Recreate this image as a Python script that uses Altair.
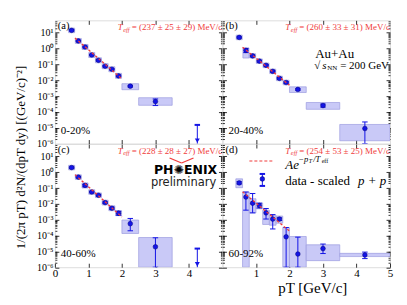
import altair as alt
import pandas as pd

BLUE = "#1414e6"
RED = "#f03c3c"
BOXFILL = "#c9c9f7"
BOXEDGE = "#9c9ce0"
SERIF = "Liberation Serif"

# ---------------- data ----------------
# (a) 0-20%
a_pt = [0.5, 0.7, 0.9, 1.1, 1.3, 1.5, 1.7, 1.9, 2.25, 3.0]
a_y = [14, 3.0, 1.25, 0.39, 0.18, 0.076, 0.049, 0.0186, 0.0042, 4.5e-4]
a_ylo = [12.5, 2.7, 1.1, 0.35, 0.16, 0.068, 0.044, 0.0165, 0.0037, 2.5e-4]
a_yhi = [15.5, 3.3, 1.4, 0.43, 0.2, 0.084, 0.054, 0.021, 0.0047, 6.5e-4]
a_bx0 = [0.41, 0.61, 0.81, 1.01, 1.21, 1.41, 1.61, 1.81, 2.0, 2.5]
a_bx1 = [0.59, 0.79, 0.99, 1.19, 1.39, 1.59, 1.79, 1.99, 2.5, 3.5]
a_by0 = [10, 2.1, 0.87, 0.27, 0.125, 0.053, 0.034, 0.013, 0.0025, 2.6e-4]
a_by1 = [19.5, 4.3, 1.8, 0.56, 0.26, 0.11, 0.07, 0.027, 0.006, 7.8e-4]
a_ul_pt = [4.25]
a_ul = [1.5e-5]
a_fit_pt = [0.6, 2.0]
a_fit = [4.6, 0.012]

# (b) 20-40%
b_pt = [0.5, 0.7, 0.9, 1.1, 1.3, 1.5, 1.7, 1.9, 2.25, 3.0, 4.25]
b_y = [5.0, 0.76, 0.34, 0.16, 0.087, 0.036, 0.013, 0.0071, 0.0026, 2.5e-4, 8.9e-6]
b_ylo = [4.5, 0.55, 0.3, 0.14, 0.078, 0.032, 0.0115, 0.0063, 0.0023, 2.0e-4, 1e-6]
b_yhi = [5.5, 0.98, 0.38, 0.18, 0.097, 0.04, 0.0146, 0.008, 0.0029, 3.1e-4, 2.3e-5]
b_bx0 = [0.41, 0.61, 0.81, 1.01, 1.21, 1.41, 1.61, 1.81, 2.0, 2.5, 3.5]
b_bx1 = [0.59, 0.79, 0.99, 1.19, 1.39, 1.59, 1.79, 1.99, 2.5, 3.5, 5.0]
b_by0 = [3.6, 0.25, 0.25, 0.115, 0.062, 0.026, 0.0093, 0.0051, 0.00166, 1.45e-4, 1.5e-6]
b_by1 = [7.0, 1.1, 0.47, 0.22, 0.12, 0.05, 0.018, 0.0099, 0.0038, 3.9e-4, 1.6e-5]
b_fit_pt = [0.6, 2.0]
b_fit = [1.2, 0.0048]

# (c) 40-60%
c_pt = [0.5, 0.7, 0.9, 1.1, 1.3, 1.5, 1.7, 1.9, 2.25, 3.0]
c_y = [1.95, 0.49, 0.147, 0.056, 0.035, 0.012, 0.0053, 0.0026, 5.6e-4, 1.95e-5]
c_ylo = [1.75, 0.44, 0.12, 0.05, 0.031, 0.0107, 0.0045, 0.0019, 2.0e-4, 1e-6]
c_yhi = [2.15, 0.54, 0.17, 0.062, 0.039, 0.0134, 0.0062, 0.0034, 1.2e-3, 7.2e-5]
c_bx0 = [0.41, 0.61, 0.81, 1.01, 1.21, 1.41, 1.61, 1.81, 2.0, 2.5]
c_bx1 = [0.59, 0.79, 0.99, 1.19, 1.39, 1.59, 1.79, 1.99, 2.5, 3.5]
c_by0 = [1.4, 0.35, 0.1, 0.04, 0.025, 0.0085, 0.0037, 0.0018, 1.35e-4, 1e-6]
c_by1 = [2.7, 0.68, 0.21, 0.078, 0.049, 0.017, 0.0075, 0.0037, 9.5e-4, 7.5e-5]
c_ul_pt = [4.25]
c_ul = [1.5e-5]
c_fit_pt = [0.6, 2.0]
c_fit = [0.7, 0.0015]

# (d) 60-92%
d_pt = [0.5, 0.7, 0.9, 1.1, 1.3, 1.5, 1.7, 1.9, 2.25, 3.0, 4.25]
d_y = [0.21, 0.027, 0.011, 0.0079, 0.0027, 0.0011, 0.0011, 8.3e-5, 6.8e-6, 1.5e-5, 5.9e-6]
d_ylo = [0.18, 0.004, 0.0027, 0.0055, 0.0011, 2.6e-4, 9e-4, 1e-6, 1e-6, 7.3e-6, 3.5e-6]
d_yhi = [0.25, 0.056, 0.045, 0.011, 0.0051, 0.0021, 0.0013, 3.2e-4, 7.9e-5, 2.9e-5, 9e-6]
d_bx0 = [0.4, 0.6, 0.8, 1.0, 1.2, 1.4, 1.6, 1.8, 2.0, 2.5, 3.5]
d_bx1 = [0.6, 0.8, 1.0, 1.2, 1.4, 1.6, 1.8, 2.0, 2.5, 3.5, 5.0]
d_by0 = [0.105, 1e-6, 0.0027, 0.0049, 5e-4, 4.5e-4, 6e-4, 1e-6, 1e-6, 2.6e-6, 4.7e-6]
d_by1 = [0.38, 0.056, 0.021, 0.0115, 0.004, 0.0019, 0.0017, 3.2e-4, 8.7e-5, 2.6e-5, 7.5e-6]
d_fit_pt = [0.6, 2.0]
d_fit = [0.058, 1.9e-4]

teff_texts = ["= (237 ± 25 ± 29) MeV/c", "= (260 ± 33 ± 31) MeV/c",
              "= (228 ± 28 ± 27) MeV/c", "= (254 ± 53 ± 25) MeV/c"]
letters = ["(a)", "(b)", "(c)", "(d)"]
centralities = ["0-20%", "20-40%", "40-60%", "60-92%"]
y_ticks = [1e-6, 1e-5, 1e-4, 1e-3, 1e-2, 1e-1, 1, 10]
y_minor = [m * 10.0 ** k for k in range(-6, 2) for m in range(2, 10) if m * 10.0 ** k < 60]

W, H = 168, 123.5
XS = alt.Scale(domain=[0, 5], nice=False, zero=False)
YS = alt.Scale(type="log", domain=[1e-6, 60], nice=False)
SUP = ("'10' + (datum.value < 1 ? '⁻' : '') + "
       "['⁰','¹','²','³','⁴','⁵','⁶','⁷'][round(abs(log(datum.value)/LN10))]")

ONE = pd.DataFrame({"k": [0]})


def txt(s, x, y, size=10, color="black", align="left", font=SERIF, style="normal", weight="normal"):
    return alt.Chart(ONE).mark_text(text=s, fontSize=size, color=color, align=align,
                                    baseline="middle", font=font, fontStyle=style,
                                    fontWeight=weight).encode(x=alt.value(x), y=alt.value(y))


def tick_axis(orient, values, size):
    return alt.Axis(orient=orient, values=values, labels=False, tickSize=size, offset=-size,
                    domain=False, grid=False, title=None, tickColor="black", tickWidth=0.8)


def panel(i, pt, y, ylo, yhi, bx0, bx1, by0, by1, fpt, fy, ulpt=None, ul=None,
          xvals=None, ylabels=False, xtitle=None, extras=()):
    df = pd.DataFrame(dict(pt=pt, y=y, ylo=ylo, yhi=yhi, bx0=bx0, bx1=bx1, by0=by0, by1=by1))
    fit = pd.DataFrame(dict(pt=fpt, y=fy))

    xb_kw = dict(orient="bottom", values=xvals if xvals else [1, 2, 3, 4],
                 labels=bool(xvals), tickSize=4, offset=-4, domain=False, grid=False,
                 labelFont=SERIF, labelFontSize=11, labelPadding=0, tickColor="black",
                 tickWidth=0.8, labelColor="black", labelOverlap=False, labelFlush=False)
    if xtitle:
        xb_kw.update(title=xtitle, titleFont=SERIF, titleFontSize=15, titleFontWeight="normal",
                     titlePadding=2, titleColor="black", titleX=90)
    else:
        xb_kw.update(title=None)
    x_bottom = alt.Axis(**xb_kw)
    y_left = alt.Axis(orient="left", values=y_ticks, labels=ylabels, labelExpr=SUP,
                      tickSize=4, offset=-4, domain=False, grid=False, title=None,
                      labelFont=SERIF, labelFontSize=10, labelPadding=2, tickColor="black",
                      tickWidth=0.8, labelColor="black", labelOverlap=False)
    x_top = tick_axis("top", [1, 2, 3, 4], 4)
    y_right = tick_axis("right", y_ticks, 4)
    y_left_minor = tick_axis("left", y_minor, 2)
    y_right_minor = tick_axis("right", y_minor, 2)

    boxes = alt.Chart(df).mark_rect(fill=BOXFILL, stroke=BOXEDGE, strokeWidth=0.7,
                                    clip=True).encode(
        x=alt.X("bx0:Q", scale=XS, axis=x_bottom), x2="bx1",
        y=alt.Y("by0:Q", scale=YS, axis=y_left), y2="by1")
    bars = alt.Chart(df).mark_rule(color=BLUE, strokeWidth=1, clip=True).encode(
        x=alt.X("pt:Q", scale=XS, axis=None), y=alt.Y("ylo:Q", scale=YS, axis=None), y2="yhi")
    cap_lo = alt.Chart(df).mark_point(shape="M-1,0L1,0", size=30, stroke=BLUE, strokeWidth=1,
                                      filled=False, opacity=1, clip=True).encode(
        x=alt.X("pt:Q", scale=XS, axis=None), y=alt.Y("ylo:Q", scale=YS, axis=y_left_minor))
    cap_hi = alt.Chart(df).mark_point(shape="M-1,0L1,0", size=30, stroke=BLUE, strokeWidth=1,
                                      filled=False, opacity=1, clip=True).encode(
        x=alt.X("pt:Q", scale=XS, axis=None), y=alt.Y("yhi:Q", scale=YS, axis=y_right_minor))
    pts = alt.Chart(df).mark_circle(size=22, color=BLUE, stroke="#00007a", strokeWidth=0.5,
                                    opacity=1, clip=True).encode(
        x=alt.X("pt:Q", scale=XS, axis=None), y=alt.Y("y:Q", scale=YS, axis=None))
    line = alt.Chart(fit).mark_line(color=RED, strokeDash=[2.5, 2], strokeWidth=1.3,
                                    clip=True).encode(
        x=alt.X("pt:Q", scale=XS, axis=x_top), y=alt.Y("y:Q", scale=YS, axis=y_right))

    layers = [boxes, bars, cap_lo, cap_hi, pts, line]

    if ulpt:
        uldf = pd.DataFrame(dict(pt=ulpt, ul=ul))
        layers.append(alt.Chart(uldf).mark_rule(color=BLUE, strokeWidth=1).encode(
            x=alt.X("pt:Q", scale=XS, axis=None), y=alt.Y("ul:Q", scale=YS, axis=None),
            y2=alt.value(H)))
        layers.append(alt.Chart(uldf).mark_point(shape="M-1,0L1,0", size=30, stroke=BLUE,
                                                 filled=False, opacity=1).encode(
            x=alt.X("pt:Q", scale=XS, axis=None), y=alt.Y("ul:Q", scale=YS, axis=None)))
        layers.append(alt.Chart(uldf).mark_point(shape="triangle-down", size=25, color=BLUE,
                                                 filled=True, opacity=1).encode(
            x=alt.X("pt:Q", scale=XS, axis=None), y=alt.value(H - 3)))

    layers += [
        txt("T", 63, 7, size=9, color=RED, style="italic"),
        txt("eff", 68.5, 9.5, size=6.5, color=RED, style="italic"),
        txt(teff_texts[i], 77, 7, size=9, color=RED),
        txt(letters[i], 3, 6, size=10.5),
        txt(centralities[i], 6, H - 13, size=11),
    ]
    layers += list(extras)

    return alt.layer(*layers).resolve_axis(x="independent", y="independent").properties(
        width=W, height=H)


extras_b = [
    txt("Au+Au", 93, 34, size=13),
    txt("√", 92, 46, size=11),
    txt("s", 100, 46, size=11, style="italic"),
    txt("NN", 105, 48, size=7),
    txt("= 200 GeV", 118, 46, size=11),
]
extras_c = [
    alt.Chart(ONE).mark_rule(color=RED, strokeWidth=1.3).encode(
        x=alt.value(115), y=alt.value(14), x2=alt.value(127), y2=alt.value(19)),
    alt.Chart(ONE).mark_rule(color=RED, strokeWidth=1.3).encode(
        x=alt.value(127), y=alt.value(19), x2=alt.value(139), y2=alt.value(14)),
    txt("PH✺ENIX", 131, 26, size=12.5, align="center", font="DejaVu Sans", weight="bold"),
    txt("preliminary", 129, 39.5, size=11.5, align="center", font="DejaVu Sans",
        color="#222222"),
]
extras_d = [
    alt.Chart(ONE).mark_rule(color=RED, strokeWidth=1.2, strokeDash=[3, 2]).encode(
        x=alt.value(27), x2=alt.value(52), y=alt.value(17)),
    txt("Ae", 63, 21, size=13, style="italic"),
    txt("−p", 76, 15, size=8.5, style="italic"),
    txt("T", 86.5, 17.5, size=6, style="italic"),
    txt("/T", 91, 15, size=8.5, style="italic"),
    txt("eff", 99.5, 17.5, size=6),
    alt.Chart(ONE).mark_rule(color=BLUE, strokeWidth=1).encode(
        x=alt.value(40), y=alt.value(30), y2=alt.value(42)),
    alt.Chart(ONE).mark_point(shape="M-1,0L1,0", size=30, stroke=BLUE, filled=False,
                              opacity=1).encode(x=alt.value(40), y=alt.value(30)),
    alt.Chart(ONE).mark_point(shape="M-1,0L1,0", size=30, stroke=BLUE, filled=False,
                              opacity=1).encode(x=alt.value(40), y=alt.value(42)),
    alt.Chart(ONE).mark_circle(size=22, color=BLUE, stroke="#00007a", strokeWidth=0.5,
                               opacity=1).encode(x=alt.value(40), y=alt.value(35)),
    txt("data - scaled", 63, 37, size=13),
    txt("p + p", 136, 37, size=13, style="italic"),
]

pa = panel(0, a_pt, a_y, a_ylo, a_yhi, a_bx0, a_bx1, a_by0, a_by1, a_fit_pt, a_fit,
           a_ul_pt, a_ul, ylabels=True)
pb = panel(1, b_pt, b_y, b_ylo, b_yhi, b_bx0, b_bx1, b_by0, b_by1, b_fit_pt, b_fit,
           extras=extras_b)
pc = panel(2, c_pt, c_y, c_ylo, c_yhi, c_bx0, c_bx1, c_by0, c_by1, c_fit_pt, c_fit,
           c_ul_pt, c_ul, xvals=[0, 1, 2, 3, 4], ylabels=True, extras=extras_c)
pd_ = panel(3, d_pt, d_y, d_ylo, d_yhi, d_bx0, d_bx1, d_by0, d_by1, d_fit_pt, d_fit,
            xvals=[1, 2, 3, 4, 5], xtitle="pT [GeV/c]", extras=extras_d)

chart = alt.concat(pa, pb, pc, pd_, columns=2, spacing=0, bounds="flush").properties(
    title=alt.TitleParams(
        text="1/(2π pT) d²N/(dpT dy) [(GeV/c)⁻²]",
        orient="left", anchor="middle", font=SERIF, fontSize=13, fontWeight="normal",
        color="black", offset=8),
    padding={"left": 7, "top": 11, "right": 5, "bottom": 5},
).configure_view(stroke="black", strokeWidth=1.2).configure(background="white")

chart.save("out.html", embed_options={"renderer": "svg", "actions": False})
